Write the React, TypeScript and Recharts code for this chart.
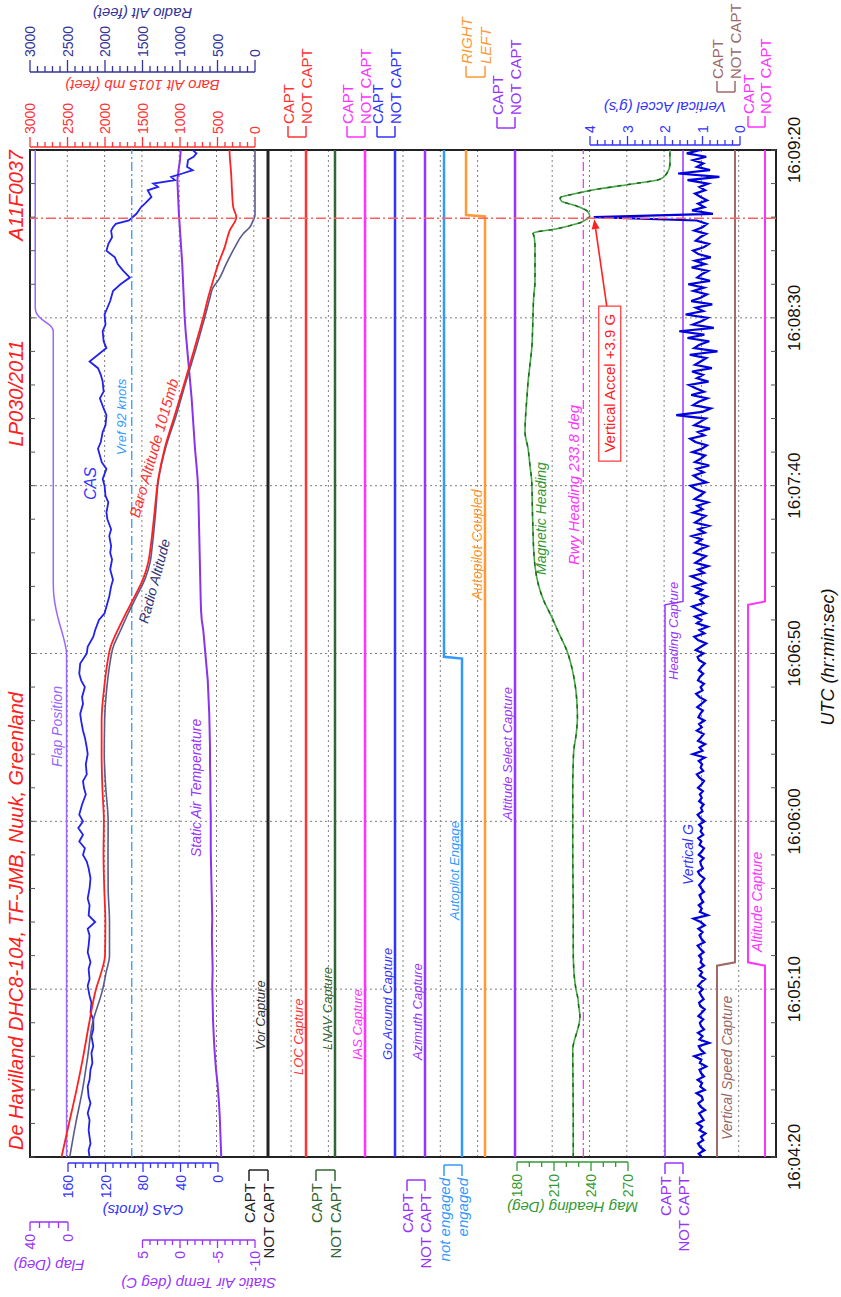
import React from 'react';
import {
  LineChart,
  Line,
  XAxis,
  YAxis,
  CartesianGrid,
  ReferenceLine,
  ReferenceDot,
  ReferenceArea,
} from 'recharts';

// The chart is laid out landscape (W x H) and turned -90deg into the 841x1297 page.
const W = 1297;
const H = 841;
const TOP = 30;
const BOTTOM = 776;
const LEFT = 140;
const RIGHT = 1147;
const FONT = '"Liberation Sans", Arial, Helvetica, sans-serif';

// ---- time axis (seconds after 16:04:20) ----
const TIME_TICKS = [0, 50, 100, 150, 200, 250, 300];
const TIME_LABELS = ['16:04:20', '16:05:10', '16:06:00', '16:06:50', '16:07:40', '16:08:30', '16:09:20'];

// ---- analog parameters: [seconds, value] ----
const CAS: [number, number][] = [
  [0, 137], [2, 138], [4, 136], [6, 137], [8, 138], [11, 137], [13, 139], [16, 136], [18, 138], [21, 139],
  [23, 137], [26, 136], [28, 134], [31, 135], [33, 133], [36, 135], [38, 133], [41, 133], [43, 136], [46, 135],
  [48, 137], [51, 139], [53, 137], [56, 138], [58, 136], [61, 139], [63, 138], [66, 137], [68, 139], [70, 131],
  [72, 138], [75, 137], [77, 139], [80, 137], [83, 136], [86, 138], [88, 140], [90, 144], [92, 142], [94, 148],
  [96, 144], [98, 149], [100, 144], [102, 148], [105, 145], [108, 141], [110, 143], [112, 144], [114, 140], [117, 141],
  [120, 139], [122, 140], [125, 142], [127, 144], [130, 146], [132, 147], [135, 144], [137, 145], [140, 142], [142, 146],
  [144, 148], [147, 147], [150, 140], [152, 139], [155, 133], [157, 131], [160, 127], [162, 121], [165, 118], [167, 116],
  [170, 114], [172, 112], [175, 115], [178, 113], [180, 115], [182, 114], [185, 116], [187, 114], [190, 118], [192, 119],
  [195, 117], [197, 120], [200, 121], [202, 123], [205, 119], [207, 124], [209, 126], [211, 128], [213, 125], [216, 123],
  [218, 120], [221, 119], [223, 122], [226, 126], [228, 122], [231, 123], [233, 125], [235, 128], [237, 137], [239, 128],
  [241, 119], [243, 122], [246, 123], [248, 120], [251, 121], [253, 118], [255, 115], [258, 112], [260, 104], [262, 94],
  [264, 101], [266, 107], [268, 110], [270, 119], [272, 117], [274, 113], [276, 114], [277, 112], [278, 109], [279, 95],
  [281, 87], [283, 82], [284, 78], [286, 71], [288, 75], [289, 64], [290, 69], [291, 46], [292, 50], [293, 38],
  [294, 27], [295, 33], [297, 32], [298, 26], [299, 23], [300, 27],
];

const BARO: [number, number][] = [
  [0, 2580], [10, 2480], [20, 2380], [30, 2290], [40, 2210], [50, 2120], [55, 2050], [60, 2000], [70, 1995], [80, 2010],
  [90, 2020], [100, 2015], [110, 2035], [120, 2045], [130, 2045], [140, 2010], [147, 1970], [152, 1925], [157, 1830],
  [162, 1720], [167, 1605], [172, 1495], [177, 1425], [182, 1390], [192, 1340], [202, 1290], [211, 1205], [221, 1070],
  [231, 935], [241, 805], [251, 680], [256, 625], [261, 560], [266, 490], [271, 405], [276, 338], [280, 250], [283, 290],
  [288, 307], [293, 318], [298, 336], [300, 340],
];

const RADIO: [number, number][] = [
  [0, 2470], [10, 2390], [20, 2300], [30, 2230], [40, 2165], [50, 2030], [55, 1985], [60, 1940], [70, 1940], [80, 1958],
  [90, 1960], [100, 1958], [110, 1990], [120, 2010], [130, 2005], [140, 1975], [147, 1935], [152, 1890], [157, 1790],
  [162, 1690], [167, 1580], [172, 1470], [177, 1400], [182, 1370], [192, 1325], [202, 1285], [211, 1195], [221, 1050],
  [231, 920], [241, 785], [251, 660], [256, 600], [259, 560], [261, 495], [266, 385], [271, 270], [275, 160], [277, 70],
  [279, 25], [280, 5], [281, 0], [300, 0],
];

const HEADING: [number, number][] = [
  [0, 225.6], [12, 225.6], [22, 225.4], [32, 225.2], [34, 226], [37, 228.4], [40, 230.5], [42, 231], [45, 230], [47, 229.5],
  [50, 227.8], [52, 227], [56, 226], [62, 225.6], [72, 225.6], [82, 225.4], [91, 225.2], [101, 225.2], [111, 225.2],
  [116, 225.5], [121, 226], [126, 228], [131, 229], [136, 228.5], [141, 227], [146, 224.3], [151, 220.3], [156, 214],
  [161, 208], [166, 201.4], [171, 197], [176, 194.6], [181, 193.5], [186, 193], [191, 192.6], [196, 192.3], [201, 192],
  [206, 190.5], [211, 189], [216, 186.5], [221, 187], [226, 188], [231, 189], [236, 190.5], [241, 192], [246, 192.6],
  [251, 193], [256, 193.5], [261, 194.6], [266, 194.6], [271, 194.6], [274, 194], [275.3, 193], [276.3, 209], [277.3, 221],
  [278.3, 231], [279.3, 236], [280.3, 239], [281.8, 237], [283.3, 228.4], [284.8, 216], [285.8, 215], [286.8, 225],
  [288.3, 244.6], [289.8, 271.6], [291.3, 296], [292.8, 301], [295.8, 304], [300, 304],
];

const FLAP: [number, number][] = [
  [0, 1.5], [150, 1.5], [152, 2.5], [155, 5], [159, 9], [163, 12.5], [167, 14.8], [171, 15.5], [246, 15.5],
  [247.5, 18], [249, 25], [250.5, 31], [252, 34], [253.5, 34.5], [300, 34.5],
];

const SAT: [number, number][] = [
  [0, -5.5], [3, -5.45], [6, -5.4], [9, -5.35], [12, -5.3], [16, -5.2], [19, -5.1], [22, -5.0], [26, -4.8], [29, -4.7],
  [32, -4.6], [36, -4.5], [41, -4.4], [46, -4.35], [51, -4.3], [56, -4.35], [61, -4.3], [66, -4.25], [71, -4.3], [76, -4.25],
  [81, -4.2], [86, -4.15], [91, -4.1], [96, -4.1], [102, -4.1], [107, -4.05], [112, -4.05], [117, -4.0], [122, -4.0],
  [127, -3.95], [132, -3.9], [137, -3.8], [142, -3.7], [147, -3.5], [152, -3.3], [157, -3.1], [160, -2.9], [163, -2.8],
  [167, -2.75], [172, -2.7], [177, -2.65], [182, -2.6], [187, -2.55], [192, -2.5], [197, -2.45], [202, -2.35], [206, -2.2],
  [211, -2.0], [216, -1.85], [221, -1.7], [226, -1.55], [231, -1.35], [236, -1.15], [241, -0.95], [246, -0.75], [251, -0.6],
  [256, -0.5], [261, -0.4], [266, -0.3], [271, -0.15], [276, 0.0], [281, 0.15], [286, 0.25], [291, 0.35], [294, 0.2],
  [297, 0.0], [300, -0.1],
];

// vertical acceleration, one sample per second from 16:04:20
const G_VALUES = [
  1.02, 1.10, 0.95, 1.06, 1.12, 0.98, 1.04, 0.92, 1.08, 1.01,
  1.14, 0.97, 1.03, 1.09, 0.93, 1.05, 1.11, 0.99, 1.02, 1.16,
  0.94, 1.06, 1.01, 1.13, 0.96, 1.04, 1.08, 0.90, 1.07, 1.03,
  1.22, 0.95, 1.05, 1.10, 0.82, 1.08, 1.00, 1.12, 0.96, 1.04,
  1.07, 0.98, 1.11, 1.02, 0.94, 1.06, 1.09, 0.97, 1.03, 1.08,
  0.99, 1.12, 1.04, 0.93, 1.07, 1.01, 1.10, 0.96, 1.05, 1.02,
  1.09, 0.97, 1.06, 1.13, 0.95, 1.03, 1.08, 1.00, 1.11, 0.94,
  1.05, 1.24, 0.86, 1.07, 1.02, 1.10, 0.98, 1.04, 1.08, 0.96,
  1.03, 1.09, 1.01, 0.95, 1.07, 1.12, 0.99, 1.04, 1.06, 0.97,
  1.10, 1.02, 0.96, 1.08, 1.03, 1.11, 0.98, 1.05, 1.01, 1.09,
  0.95, 1.06, 1.13, 1.00, 1.04, 0.97, 1.09, 1.02, 1.07, 0.99,
  1.12, 1.03, 0.96, 1.08, 1.15, 0.98, 1.05, 1.01, 1.10, 0.94,
  1.26, 1.00, 1.08, 0.93, 1.12, 1.04, 0.97, 1.15, 1.02, 1.09,
  0.95, 1.11, 1.06, 0.99, 1.14, 1.03, 0.92, 1.08, 1.17, 1.00,
  1.05, 0.96, 1.12, 1.07, 0.98, 1.10, 1.03, 0.94, 1.09, 1.13,
  0.97, 1.18, 1.04, 0.90, 1.12, 1.22, 0.95, 1.08, 0.86, 1.15,
  1.03, 1.20, 0.92, 1.10, 1.27, 0.98, 1.06, 0.88, 1.16, 1.01,
  1.24, 0.93, 1.09, 1.30, 0.96, 1.12, 0.85, 1.19, 1.05, 0.91,
  1.22, 1.08, 0.87, 1.17, 1.02, 1.28, 0.94, 1.11, 0.83, 1.20,
  1.06, 0.92, 1.25, 1.00, 1.14, 0.86, 1.21, 1.07, 0.95, 1.18,
  1.32, 0.89, 1.10, 1.24, 0.97, 1.15, 0.82, 1.20, 1.05, 0.93,
  1.27, 1.02, 0.88, 1.19, 1.33, 0.95, 1.12, 0.80, 1.22, 1.06,
  0.91, 1.70, 1.00, 0.78, 1.25, 1.10, 0.87, 1.30, 0.96, 1.18,
  1.36, 0.84, 1.15, 0.99, 1.28, 0.75, 1.20, 1.05, 0.90, 1.34,
  0.60, 1.22, 1.08, 0.82, 1.40, 0.95, 1.62, 0.70, 1.26, 1.03,
  0.86, 1.45, 0.98, 1.18, 0.74, 1.30, 1.05, 0.88, 1.24, 0.96,
  1.38, 0.80, 1.14, 1.02, 0.85, 1.29, 0.93, 1.20, 0.78, 1.11,
  1.25, 0.97, 0.83, 1.18, 1.06, 0.90, 1.22, 1.00, 0.88, 1.15,
  3.90, 0.72, 1.28, 0.95, 1.12, 0.88, 1.05, 1.20, 0.93, 1.08,
  0.85, 1.40, 0.55, 1.65, 0.80, 1.15, 0.98, 1.25, 0.90, 1.42,
  1.05,
];

const VREF = 92;
const RWY_HEADING = 233.8;
const EVENT_T = 279.7;
const PEAK_T = 280;
const PEAK_G = 3.9;

// ---- discrete parameters: [seconds, state] (1 = upper label) ----
const VOR: [number, number][] = [[0, 0], [300, 0]];
const LOC: [number, number][] = [[0, 0], [300, 0]];
const LNAV: [number, number][] = [[0, 0], [300, 0]];
const IAS: [number, number][] = [[0, 0], [300, 0]];
const GO_AROUND: [number, number][] = [[0, 0], [300, 0]];
const AZIMUTH: [number, number][] = [[0, 0], [300, 0]];
const AP_ENGAGE: [number, number][] = [[0, 0], [148.5, 0], [149, 1], [300, 1]];
const AP_COUPLED: [number, number][] = [[0, 0], [280.2, 0], [280.6, 1], [300, 1]];
const ALT_SELECT: [number, number][] = [[0, 0], [300, 0]];
const HDG_CAPTURE: [number, number][] = [[0, 1], [164.5, 1], [165.5, 0], [300, 0]];
const VS_CAPTURE: [number, number][] = [[0, 1], [57, 1], [58, 0], [300, 0]];
const ALT_CAPTURE: [number, number][] = [[0, 0], [57, 0], [58, 1], [164.5, 1], [165.5, 0], [300, 0]];

const CAPT_STATES = ['NOT CAPT', 'CAPT'];
const ENGAGE_STATES = ['engaged', 'not engaged'];
const COUPLE_STATES = ['LEFT', 'RIGHT'];

const range = (a: number, b: number, step: number) => {
  const out: number[] = [];
  for (let v = a; v <= b + 1e-9; v += step) out.push(+v.toFixed(2));
  return out;
};
const MINOR_TIME = range(0, 300, 10);
const GRID_ROWS = range(0, 20, 1);

type Side = 'left' | 'right';
interface Scale {
  id: string; v0: number; ly0: number; v1: number; ly1: number;
  ticks: number[]; majors: number[]; side: Side; spine: number;
  color: string; title: string; titleX: number; major: number; minor: number;
}

const SCALES: Scale[] = [
  { id: 'cas', v0: 0, ly0: 218, v1: 160, ly1: 68, ticks: range(0, 160, 8), majors: [0, 40, 80, 120, 160], side: 'left', spine: 134, color: '#3333ff', title: 'CAS (knots)', titleX: 87, major: 9, minor: 5 },
  { id: 'hdg', v0: 180, ly0: 517, v1: 270, ly1: 628, ticks: range(180, 270, 10), majors: [180, 210, 240, 270], side: 'left', spine: 135, color: '#339933', title: 'Mag Heading (Deg)', titleX: 90, major: 9, minor: 5 },
  { id: 'flap', v0: 0, ly0: 68, v1: 40, ly1: 30, ticks: range(0, 40, 10), majors: [0, 40], side: 'left', spine: 75, color: '#9933ff', title: 'Flap (Deg)', titleX: 32, major: 9, minor: 6 },
  { id: 'sat', v0: -10, ly0: 255, v1: 5, ly1: 142.5, ticks: range(-10, 5, 1), majors: [-10, -5, 0, 5], side: 'left', spine: 57, color: '#9933ff', title: 'Static Air Temp (deg C)', titleX: 14, major: 8, minor: 5 },
  { id: 'baro', v0: 0, ly0: 255, v1: 3000, ly1: 30, ticks: range(0, 3000, 100), majors: [0, 500, 1000, 1500, 2000, 2500, 3000], side: 'right', spine: 1150, color: '#ff3333', title: 'Baro Alt 1015 mb (feet)', titleX: 1212, major: 10, minor: 5 },
  { id: 'radio', v0: 0, ly0: 255, v1: 3000, ly1: 30, ticks: range(0, 3000, 100), majors: [0, 500, 1000, 1500, 2000, 2500, 3000], side: 'right', spine: 1225, color: '#333399', title: 'Radio Alt (feet)', titleX: 1284, major: 12, minor: 6 },
  { id: 'g', v0: 0, ly0: 740, v1: 4, ly1: 590, ticks: range(0, 4, 0.2), majors: [0, 1, 2, 3, 4], side: 'right', spine: 1152, color: '#3333ff', title: "Vertical Accel (g's)", titleX: 1190, major: 9, minor: 5 },
];

interface Channel {
  id: string; data: [number, number][]; states: string[]; not: number; capt: number;
  side: Side; spine: number; color: string; width: number; italic?: boolean;
}

const CHANNELS: Channel[] = [
  { id: 'vor', data: VOR, states: CAPT_STATES, not: 268, capt: 249, side: 'left', spine: 127, color: '#222222', width: 3 },
  { id: 'loc', data: LOC, states: CAPT_STATES, not: 306, capt: 288, side: 'right', spine: 1160, color: '#ff3333', width: 2.5 },
  { id: 'lnav', data: LNAV, states: CAPT_STATES, not: 335, capt: 316, side: 'left', spine: 127, color: '#336633', width: 2.5 },
  { id: 'ias', data: IAS, states: CAPT_STATES, not: 365, capt: 347, side: 'right', spine: 1160, color: '#ff33ff', width: 2.5 },
  { id: 'ga', data: GO_AROUND, states: CAPT_STATES, not: 395, capt: 377, side: 'right', spine: 1160, color: '#3333ff', width: 2.5 },
  { id: 'az', data: AZIMUTH, states: CAPT_STATES, not: 425, capt: 407, side: 'left', spine: 117, color: '#9933ff', width: 2.5 },
  { id: 'ape', data: AP_ENGAGE, states: ENGAGE_STATES, not: 462, capt: 444, side: 'left', spine: 132, color: '#3399ff', width: 2.5, italic: true },
  { id: 'apc', data: AP_COUPLED, states: COUPLE_STATES, not: 485, capt: 466, side: 'right', spine: 1220, color: '#ff9933', width: 2.5, italic: true },
  { id: 'alts', data: ALT_SELECT, states: CAPT_STATES, not: 515, capt: 497, side: 'right', spine: 1169, color: '#9933ff', width: 2.5 },
  { id: 'hdgc', data: HDG_CAPTURE, states: CAPT_STATES, not: 683, capt: 665, side: 'left', spine: 134, color: '#9933ff', width: 1.5 },
  { id: 'vsc', data: VS_CAPTURE, states: CAPT_STATES, not: 735, capt: 717, side: 'right', spine: 1205, color: '#a06a6a', width: 2 },
  { id: 'altc', data: ALT_CAPTURE, states: CAPT_STATES, not: 765, capt: 748, side: 'right', spine: 1170, color: '#ff33ff', width: 2 },
];

// in-plot captions, landscape pixel positions
const CAPTIONS = [
  { t: 'Flap Position', x: 530, y: 57, c: '#9966ff', s: 14, a: 0 },
  { t: 'CAS', x: 797, y: 90, c: '#3333ff', s: 16, a: 0 },
  { t: 'Vref 92 knots', x: 842, y: 121, c: '#3399ff', s: 13, a: 0 },
  { t: 'Baro Altitude 1015mb', x: 780, y: 134, c: '#ff3333', s: 15, a: 16 },
  { t: 'Radio Altitude', x: 674, y: 143, c: '#333377', s: 14, a: 15 },
  { t: 'Static Air Temperature', x: 440, y: 196, c: '#9933ff', s: 14, a: 0 },
  { t: 'Vor Capture', x: 247, y: 260, c: '#333333', s: 13, a: 0 },
  { t: 'LOC Capture', x: 222, y: 298, c: '#ff3333', s: 13, a: 0 },
  { t: 'LNAV Capture', x: 247, y: 327, c: '#336633', s: 13, a: 0 },
  { t: 'IAS Capture', x: 237, y: 357, c: '#ff33ff', s: 13, a: 0 },
  { t: 'Go Around Capture', x: 237, y: 387, c: '#3333ff', s: 13, a: 0 },
  { t: 'Azimuth Capture', x: 237, y: 417, c: '#9933ff', s: 13, a: 0 },
  { t: 'Autopilot Engage', x: 377, y: 454, c: '#3399ff', s: 13, a: 0 },
  { t: 'Autopilot Coupled', x: 697, y: 477, c: '#ff9933', s: 14, a: 0 },
  { t: 'Altitude Select Capture', x: 477, y: 507, c: '#9933ff', s: 13, a: 0 },
  { t: 'Magnetic Heading', x: 722, y: 541, c: '#339933', s: 14, a: 0 },
  { t: 'Rwy Heading 233.8 deg', x: 732, y: 573, c: '#ff33ff', s: 15, a: 0 },
  { t: 'Heading Capture', x: 617, y: 673, c: '#9933ff', s: 13, a: 0 },
  { t: 'Vertical G', x: 412, y: 688, c: '#3333ff', s: 14, a: 0 },
  { t: 'Vertical Speed Capture', x: 157, y: 727, c: '#996666', s: 14, a: 0 },
  { t: 'Altitude Capture', x: 345, y: 757, c: '#ff33ff', s: 14, a: 0 },
];

const rows = (pairs: [number, number][]) => pairs.map(([t, v]) => ({ t, v }));
const gRows = G_VALUES.map((v, i) => ({ t: i, v }));

// domain so that v0 lands on ly0 and v1 on ly1 inside the shared plot band
function band(v0: number, ly0: number, v1: number, ly1: number) {
  const s = (ly1 - ly0) / (v1 - v0);
  const a = v0 + (TOP - ly0) / s;
  const b = v0 + (BOTTOM - ly0) / s;
  return s < 0
    ? { domain: [b, a] as [number, number], reversed: false, s }
    : { domain: [a, b] as [number, number], reversed: true, s };
}

const scaleTick = (c: Scale, s: number) => (p: any) => {
  const y = p.y;
  const v = p.payload.value;
  const dir = c.side === 'left' ? -1 : 1;
  const isMajor = c.majors.includes(v);
  const len = isMajor ? c.major : c.minor;
  const min = c.ticks[0];
  const max = c.ticks[c.ticks.length - 1];
  const span = s * (max - min);
  return (
    <g>
      <line x1={c.spine} y1={y} x2={c.spine + dir * len} y2={y} stroke={c.color} strokeWidth={1.3} />
      {isMajor && (
        <text x={c.spine + dir * (c.major + 3)} y={y} textAnchor={dir < 0 ? 'end' : 'start'} dominantBaseline="central" fill={c.color} fontSize={14} fontFamily={FONT}>
          {v}
        </text>
      )}
      {v === min && (
        <g>
          <line x1={c.spine} y1={y} x2={c.spine} y2={y + span} stroke={c.color} strokeWidth={1.5} />
          <text transform={`translate(${c.titleX},${y + span / 2}) rotate(-90)`} textAnchor="middle" dominantBaseline="central" fill={c.color} fontSize={15} fontStyle="italic" fontFamily={FONT}>
            {c.title}
          </text>
        </g>
      )}
    </g>
  );
};

const LEG = 11;
const channelTick = (c: Channel, s: number) => (p: any) => {
  const y = p.y;
  const v = p.payload.value;
  const dir = c.side === 'left' ? -1 : 1;
  return (
    <g>
      <line x1={c.spine} y1={y} x2={c.spine + dir * LEG} y2={y} stroke={c.color} strokeWidth={1.5} />
      <text x={c.spine + dir * (LEG + 2)} y={y} textAnchor={dir < 0 ? 'end' : 'start'} dominantBaseline="central" fill={c.color} fontSize={15} fontStyle={c.italic ? 'italic' : 'normal'} fontFamily={FONT}>
        {c.states[v]}
      </text>
      {v === 0 && <line x1={c.spine} y1={y} x2={c.spine} y2={y + s} stroke={c.color} strokeWidth={1.5} />}
    </g>
  );
};

const timeTick = (p: any) => {
  const x = p.payload.coordinate ?? p.x;
  const i = TIME_TICKS.indexOf(p.payload.value);
  return (
    <g>
      <line x1={x} y1={BOTTOM} x2={x} y2={BOTTOM - 5} stroke="#555" />
      {i >= 0 && (
        <text x={x} y={BOTTOM + 18} textAnchor="middle" dominantBaseline="central" fontSize={17} fill="#111" fontFamily={FONT}>
          {TIME_LABELS[i]}
        </text>
      )}
    </g>
  );
};

const topTick = (p: any) => {
  const x = p.payload.coordinate ?? p.x;
  return <line x1={x} y1={TOP} x2={x} y2={TOP + 5} stroke="#555" />;
};

const noTick = () => <g />;

const AccelNote = (p: any) => {
  const { cx, cy } = p;
  const tail = { x: cx - 89, y: cy + 13 };
  const tip = { x: cx - 2, y: cy + 0.5 };
  const dx = tip.x - tail.x;
  const dy = tip.y - tail.y;
  const len = Math.hypot(dx, dy);
  const ux = dx / len;
  const uy = dy / len;
  const bx = tip.x - ux * 10;
  const by = tip.y - uy * 10;
  const head = `${tip.x},${tip.y} ${bx - uy * 4},${by + ux * 4} ${bx + uy * 4},${by - ux * 4}`;
  return (
    <g>
      <line x1={tail.x} y1={tail.y} x2={bx} y2={by} stroke="#ff2020" strokeWidth={1.6} />
      <polygon points={head} fill="#ff2020" />
      <rect x={cx - 244} y={cy + 5} width={155} height={22} fill="#fff" stroke="#ff3333" strokeWidth={1.2} />
      <text x={cx - 166} y={cy + 16} textAnchor="middle" dominantBaseline="central" fill="#ff2020" fontSize={15} fontFamily={FONT}>
        Vertical Accel +3.9 G
      </text>
    </g>
  );
};

export default function App() {
  const scales = SCALES.map((c) => ({ c, ...band(c.v0, c.ly0, c.v1, c.ly1) }));
  const channels = CHANNELS.map((c) => ({ c, ...band(0, c.not, 1, c.capt) }));

  return (
    <div style={{ position: 'absolute', left: 0, top: 0, width: 841, height: 1297, overflow: 'hidden', background: '#fff' }}>
      <div
        style={{
          position: 'absolute',
          left: 0,
          top: 0,
          width: W,
          height: H,
          transformOrigin: '0 0',
          transform: `translateY(${W}px) rotate(-90deg)`,
          fontFamily: FONT,
        }}
      >
        <LineChart width={W} height={H} margin={{ top: TOP, right: W - RIGHT, bottom: H - BOTTOM, left: LEFT }}>
          <XAxis xAxisId="time" mirror type="number" dataKey="t" domain={[0, 300]} allowDataOverflow ticks={MINOR_TIME} interval={0} height={2} axisLine={false} tickLine={false} tick={timeTick} />
          <XAxis xAxisId="top" mirror orientation="top" type="number" dataKey="t" domain={[0, 300]} allowDataOverflow ticks={MINOR_TIME} interval={0} height={2} axisLine={false} tickLine={false} tick={topTick} />
          <XAxis xAxisId="grid" mirror type="number" dataKey="t" domain={[0, 300]} allowDataOverflow ticks={TIME_TICKS} interval={0} height={2} axisLine={false} tickLine={false} tick={noTick} />
          <YAxis yAxisId="grid" mirror type="number" domain={[0, 20]} allowDataOverflow ticks={GRID_ROWS} interval={0} width={2} axisLine={false} tickLine={false} tick={noTick} />
          {scales.map(({ c, domain, reversed, s }) => (
            <YAxis key={c.id} yAxisId={c.id} mirror orientation={c.side} type="number" domain={domain} reversed={reversed} allowDataOverflow ticks={c.ticks} interval={0} width={2} axisLine={false} tickLine={false} tick={scaleTick(c, s)} />
          ))}
          {channels.map(({ c, domain, reversed, s }) => (
            <YAxis key={c.id} yAxisId={c.id} mirror orientation={c.side} type="number" domain={domain} reversed={reversed} allowDataOverflow ticks={[0, 1]} interval={0} width={2} axisLine={false} tickLine={false} tick={channelTick(c, s)} />
          ))}

          <CartesianGrid xAxisId="grid" yAxisId="grid" stroke="#808080" strokeDasharray="2 3" />

          <ReferenceLine xAxisId="time" yAxisId="cas" y={VREF} stroke="#3399ff" strokeWidth={1.3} strokeDasharray="9 3 2 3" />
          <ReferenceLine xAxisId="time" yAxisId="hdg" y={RWY_HEADING} stroke="#ff33ff" strokeWidth={1.3} strokeDasharray="9 3 2 3" />

          {channels.map(({ c }) => (
            <Line key={c.id} data={rows(c.data)} dataKey="v" xAxisId="time" yAxisId={c.id} type="linear" stroke={c.color} strokeWidth={c.width} dot={false} isAnimationActive={false} />
          ))}

          <Line data={rows(FLAP)} dataKey="v" xAxisId="time" yAxisId="flap" type="monotone" stroke="#9966ff" strokeWidth={1.5} dot={false} isAnimationActive={false} />
          <Line data={rows(SAT)} dataKey="v" xAxisId="time" yAxisId="sat" type="linear" stroke="#8833ee" strokeWidth={2} dot={false} isAnimationActive={false} />
          <Line data={rows(CAS)} dataKey="v" xAxisId="time" yAxisId="cas" type="linear" stroke="#2222ee" strokeWidth={1.8} dot={false} isAnimationActive={false} />
          <Line data={rows(RADIO)} dataKey="v" xAxisId="time" yAxisId="radio" type="monotone" stroke="#5a5a8c" strokeWidth={1.6} dot={false} isAnimationActive={false} />
          <Line data={rows(BARO)} dataKey="v" xAxisId="time" yAxisId="baro" type="monotone" stroke="#ff2020" strokeWidth={1.8} dot={false} isAnimationActive={false} />
          <Line data={rows(HEADING)} dataKey="v" xAxisId="time" yAxisId="hdg" type="monotone" stroke="#44aa44" strokeWidth={1.6} dot={false} isAnimationActive={false} />
          <Line data={rows(HEADING)} dataKey="v" xAxisId="time" yAxisId="hdg" type="monotone" stroke="#1f5f1f" strokeWidth={1.4} strokeDasharray="4 6" dot={false} isAnimationActive={false} />
          <Line data={gRows} dataKey="v" xAxisId="time" yAxisId="g" type="linear" stroke="#0000dd" strokeWidth={2.2} dot={false} isAnimationActive={false} />

          <ReferenceLine xAxisId="time" yAxisId="grid" x={EVENT_T} stroke="#ff6060" strokeWidth={1.5} strokeDasharray="10 3 2 3" />
          <ReferenceDot xAxisId="time" yAxisId="g" x={PEAK_T} y={PEAK_G} r={0} shape={(p: any) => <AccelNote {...p} />} />
          <ReferenceArea xAxisId="time" yAxisId="grid" x1={0} x2={300} y1={0} y2={20} fill="none" fillOpacity={0} stroke="#222" strokeWidth={2} />
        </LineChart>

        <svg width={W} height={H} style={{ position: 'absolute', left: 0, top: 0, pointerEvents: 'none' }} fontFamily={FONT}>
          <text x={147} y={16} dominantBaseline="central" fill="#ff2020" fontSize={20} fontStyle="italic">
            De Havilland DHC8-104, TF-JMB, Nuuk, Greenland
          </text>
          <text x={957} y={16} textAnchor="end" dominantBaseline="central" fill="#ff2020" fontSize={20} fontStyle="italic">
            LP030/2011
          </text>
          <text x={1147} y={16} textAnchor="end" dominantBaseline="central" fill="#ff2020" fontSize={20} fontStyle="italic">
            A11F0037
          </text>
          <text x={640} y={828} textAnchor="middle" dominantBaseline="central" fill="#111" fontSize={18} fontStyle="italic">
            UTC (hr:min:sec)
          </text>
          {CAPTIONS.map((l) => (
            <text
              key={l.t}
              x={l.x}
              y={l.y}
              dominantBaseline="central"
              fill={l.c}
              fontSize={l.s}
              fontStyle="italic"
              transform={l.a ? `rotate(${l.a},${l.x},${l.y})` : undefined}
            >
              {l.t}
            </text>
          ))}
        </svg>
      </div>
    </div>
  );
}
